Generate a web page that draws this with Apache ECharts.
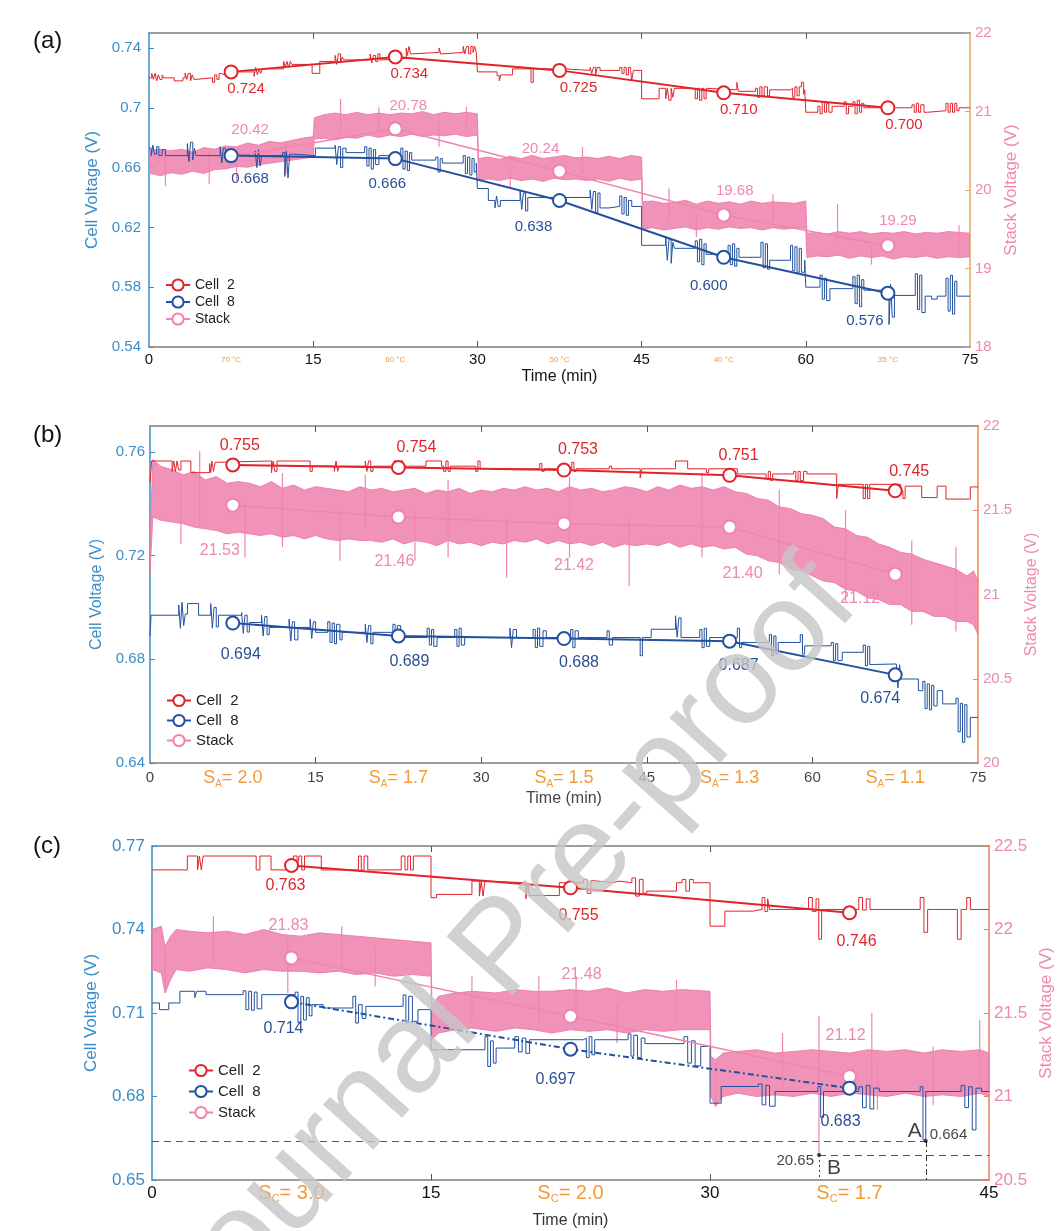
<!DOCTYPE html>
<html>
<head>
<meta charset="utf-8">
<title>Cell and stack voltage</title>
<script src="https://cdn.jsdelivr.net/npm/echarts@6/dist/echarts.min.js"></script>
<style>
  html, body { margin: 0; padding: 0; background: #fff; }
  #chart { width: 1063px; height: 1231px; }
</style>
</head>
<body>
<div id="chart"></div>
<script>
// ---- axis ticks ----
const timeTicksAB = [0, 15, 30, 45, 60, 75]
const timeTicksC = [0, 15, 30, 45]
const cellTicksA = [0.54, 0.58, 0.62, 0.66, 0.7, 0.74]
const stackTicksA = [18, 19, 20, 21, 22]
const cellTicksB = [0.64, 0.68, 0.72, 0.76]
const stackTicksB = [20, 20.5, 21, 21.5, 22]
const cellTicksC = [0.65, 0.68, 0.71, 0.74, 0.77]
const stackTicksC = [20.5, 21, 21.5, 22, 22.5]

// ---- operating conditions (one per 15 min block) ----
const markTimesAB = [7.5, 22.5, 37.5, 52.5, 67.5]
const markTimesC = [7.5, 22.5, 37.5]
const tempLabelsA = ['70 °C', '60 °C', '50 °C', '40 °C', '35 °C']
const anodeStoichB = ['2.0', '1.7', '1.5', '1.3', '1.1']
const cathodeStoichC = ['3.0', '2.0', '1.7']

// ---- averaged values (circles) ----
const cell2MarksA = [0.724, 0.734, 0.725, 0.710, 0.700]
const cell8MarksA = [0.668, 0.666, 0.638, 0.600, 0.576]
const stackMarksA = [20.42, 20.78, 20.24, 19.68, 19.29]
const cell2MarksB = [0.755, 0.754, 0.753, 0.751, 0.745]
const cell8MarksB = [0.694, 0.689, 0.688, 0.687, 0.674]
const stackMarksB = [21.53, 21.46, 21.42, 21.40, 21.12]
const cell2MarksC = [0.763, 0.755, 0.746]
const cell8MarksC = [0.714, 0.697, 0.683]
const stackMarksC = [21.83, 21.48, 21.12]

// ---- measured traces [time min, voltage] (value holds until next point) ----
const cell2TraceA = [
  [0, 0.720], [0.25, 0.723], [0.4, 0.719], [0.55, 0.723], [0.7, 0.718], [0.85, 0.722], [1, 0.719], [1.2, 0.722], [1.35, 0.720],
  [2.3, 0.718], [3.1, 0.720], [3.3, 0.723], [3.45, 0.719], [3.6, 0.723], [3.8, 0.718], [3.95, 0.722], [4.1, 0.719], [4.3, 0.720],
  [5.8, 0.717], [6, 0.722], [6.2, 0.719], [6.4, 0.723], [6.6, 0.722], [6.9, 0.724],
  [9.6, 0.721], [9.75, 0.727], [9.9, 0.722], [10.05, 0.726], [10.2, 0.723], [10.35, 0.726],
  [12.3, 0.731], [12.45, 0.727], [12.6, 0.731], [12.75, 0.727], [12.9, 0.731], [13.05, 0.729],
  [14.9, 0.723], [15.6, 0.731],
  [17, 0.735], [17.15, 0.729], [17.3, 0.736], [17.5, 0.730], [17.65, 0.734], [17.8, 0.732],
  [20.2, 0.736], [20.35, 0.730], [20.5, 0.735], [20.7, 0.731], [20.9, 0.736], [21.1, 0.732], [21.3, 0.733],
  [23.5, 0.740], [23.6, 0.735], [23.75, 0.741], [23.9, 0.736], [24, 0.737],
  [26.5, 0.740], [26.65, 0.736], [26.8, 0.737],
  [28.7, 0.741], [28.85, 0.736], [29, 0.741], [29.2, 0.736], [29.4, 0.741], [29.6, 0.737], [29.75, 0.741], [29.9, 0.737],
  [30, 0.724], [31.8, 0.7215], [32, 0.718], [32.15, 0.722], [33.2, 0.726], [34.9, 0.717], [35.1, 0.726],
  [38, 0.725], [40.3, 0.727], [40.45, 0.723], [40.6, 0.727], [40.8, 0.722], [40.95, 0.727], [41.2, 0.725],
  [43, 0.727], [43.2, 0.723], [43.4, 0.727], [43.6, 0.722], [43.8, 0.727], [44, 0.725], [44.1, 0.718], [44.25, 0.725],
  [45, 0.706], [46.6, 0.713], [47.2, 0.706], [47.35, 0.713], [47.5, 0.705], [47.7, 0.713], [47.85, 0.707], [48, 0.713],
  [49.9, 0.706], [50.1, 0.713], [50.3, 0.705], [50.5, 0.713], [50.7, 0.706], [50.9, 0.713], [51, 0.712],
  [53.7, 0.717], [53.85, 0.711], [55.4, 0.713], [55.6, 0.707], [55.8, 0.714], [56, 0.708], [56.2, 0.714], [56.5, 0.708], [56.7, 0.712],
  [58.6, 0.713], [58.8, 0.707], [59, 0.714], [59.2, 0.708], [59.4, 0.714], [59.6, 0.717], [59.8, 0.709], [59.9, 0.712],
  [60, 0.697], [61.1, 0.701], [61.3, 0.696], [61.5, 0.704], [61.7, 0.697], [61.9, 0.703], [62.1, 0.697], [62.4, 0.701],
  [63.5, 0.704], [63.7, 0.696], [63.9, 0.701], [64.3, 0.704], [64.5, 0.696], [64.7, 0.705], [64.9, 0.697], [65.1, 0.703], [65.3, 0.700],
  [69.7, 0.702], [69.9, 0.697], [70.1, 0.703], [70.3, 0.697], [70.5, 0.702], [70.8, 0.697], [71.1, 0.698],
  [72.8, 0.703], [73, 0.697], [73.2, 0.703], [73.4, 0.697], [73.6, 0.703], [73.8, 0.698], [74, 0.700], [75, 0.700]
]
const cell8TraceA = [
  [0, 0.673], [0.2, 0.668], [0.35, 0.675], [0.5, 0.669], [0.7, 0.674], [0.9, 0.668], [1.2, 0.672], [1.5, 0.668],
  [3.5, 0.676], [3.65, 0.664], [3.8, 0.677], [4, 0.665], [4.15, 0.673], [4.3, 0.668],
  [6.5, 0.674], [6.65, 0.663], [6.8, 0.673], [7, 0.664], [7.2, 0.668],
  [9.7, 0.671], [9.85, 0.660], [10, 0.672], [10.15, 0.661], [10.3, 0.668],
  [12.2, 0.670], [12.4, 0.654], [12.55, 0.671], [12.7, 0.653], [12.85, 0.669], [13.1, 0.668],
  [15.2, 0.673], [17, 0.675], [17.15, 0.662], [17.3, 0.674], [17.5, 0.660], [17.7, 0.673], [18, 0.670],
  [19.7, 0.674], [19.9, 0.661], [20.1, 0.673], [20.3, 0.659], [20.5, 0.672], [20.7, 0.662], [21, 0.668],
  [23, 0.673], [23.2, 0.659], [23.4, 0.671], [23.6, 0.658], [23.8, 0.670], [24, 0.665],
  [26.2, 0.667], [26.4, 0.657], [26.6, 0.666], [26.8, 0.663],
  [28.7, 0.668], [28.9, 0.656], [29.1, 0.667], [29.3, 0.655], [29.5, 0.666], [29.7, 0.657], [29.9, 0.663],
  [30, 0.646], [31, 0.638], [31.6, 0.633], [31.75, 0.641], [31.9, 0.634], [32.1, 0.638],
  [33.9, 0.645], [34.05, 0.632], [34.2, 0.643], [34.4, 0.631], [34.6, 0.640],
  [40.3, 0.645], [40.45, 0.632], [40.6, 0.644], [40.8, 0.630], [41, 0.643], [41.2, 0.633], [42, 0.634],
  [43, 0.641], [43.2, 0.629], [43.4, 0.640], [43.6, 0.628], [43.8, 0.638], [44.1, 0.634],
  [45, 0.608], [47.2, 0.614], [47.35, 0.598], [47.5, 0.612], [47.7, 0.596], [47.85, 0.610], [48, 0.606],
  [49.9, 0.611], [50.1, 0.597], [50.3, 0.612], [50.5, 0.595], [50.7, 0.609], [50.9, 0.602],
  [52.9, 0.608], [53.1, 0.595], [53.3, 0.609], [53.5, 0.594], [53.7, 0.606], [53.9, 0.600],
  [55.9, 0.610], [56.1, 0.593], [56.3, 0.609], [56.5, 0.592], [56.7, 0.598],
  [58.6, 0.608], [58.8, 0.591], [59, 0.607], [59.2, 0.590], [59.4, 0.606], [59.6, 0.590], [59.9, 0.598],
  [60, 0.580], [61.3, 0.588], [61.5, 0.572], [61.7, 0.586], [61.9, 0.571], [62.2, 0.579],
  [64.3, 0.587], [64.5, 0.569], [64.7, 0.588], [64.9, 0.567], [65.1, 0.585], [65.3, 0.578],
  [67.6, 0.555], [67.75, 0.582], [67.9, 0.560], [68.1, 0.5745],
  [70, 0.589], [70.2, 0.565], [70.4, 0.588], [70.6, 0.563], [70.9, 0.574], [71.5, 0.572], [72, 0.574],
  [72.8, 0.586], [73, 0.564], [73.2, 0.588], [73.4, 0.562], [73.6, 0.584], [73.8, 0.574], [75, 0.574]
]
const cell2TraceB = [
  [0, 0.748], [0.15, 0.7565],
  [2, 0.7525], [2.15, 0.7565], [2.3, 0.7525], [2.45, 0.7565], [2.6, 0.753], [2.8, 0.7565],
  [3.7, 0.752], [5.4, 0.7555], [5.5, 0.752], [5.6, 0.7565], [5.75, 0.7525], [5.9, 0.756], [6.1, 0.7565],
  [11, 0.752], [11.15, 0.7565], [11.3, 0.7525], [11.5, 0.7565],
  [14.5, 0.7525], [14.7, 0.7545],
  [16.7, 0.7525], [16.85, 0.7565], [17, 0.7525], [17.15, 0.7545],
  [19.5, 0.7565], [19.65, 0.7525], [19.8, 0.7565], [20, 0.7525], [20.2, 0.7545],
  [22.1, 0.7565], [22.3, 0.7525], [22.7, 0.7565], [22.9, 0.7545],
  [25, 0.7565], [26.4, 0.7545], [26.6, 0.7525], [26.8, 0.7565], [27, 0.7525], [27.2, 0.7545],
  [29.5, 0.7525], [29.7, 0.7565], [29.9, 0.7535],
  [35.3, 0.7555], [35.5, 0.7525], [35.7, 0.7535],
  [38.2, 0.756], [38.4, 0.7525], [38.6, 0.7535],
  [41.6, 0.7545], [41.8, 0.7535], [44.4, 0.750], [44.55, 0.7535],
  [47.6, 0.7565], [48.7, 0.7535], [50.4, 0.752], [50.6, 0.7535],
  [53.2, 0.7515], [55.8, 0.7495], [56, 0.7525], [56.2, 0.749], [56.4, 0.7515],
  [58.3, 0.7525], [58.5, 0.749], [58.7, 0.7525], [58.9, 0.749], [59.2, 0.7525], [59.5, 0.7515],
  [62.2, 0.742], [62.35, 0.7475],
  [64.6, 0.742], [64.8, 0.7475], [65, 0.742], [65.2, 0.7475],
  [68, 0.745], [68.2, 0.742], [68.4, 0.7468],
  [69.9, 0.7424], [71.3, 0.7468], [72.1, 0.7418], [74.3, 0.7465], [75, 0.7465]
]
const cell8TraceB = [
  [0, 0.689], [0.1, 0.697],
  [2.6, 0.701], [2.75, 0.692], [2.9, 0.702], [3.05, 0.693], [3.2, 0.6975], [3.4, 0.7015], [4.4, 0.697],
  [5.5, 0.7015], [5.65, 0.692], [5.8, 0.700], [6, 0.6925], [6.2, 0.697],
  [8.3, 0.698], [8.45, 0.690], [8.6, 0.697], [8.8, 0.6905], [9, 0.6942],
  [10.1, 0.697], [10.25, 0.689], [10.4, 0.6965], [10.6, 0.6895], [10.8, 0.6923],
  [12.6, 0.6955], [12.75, 0.687], [12.9, 0.6945], [13.1, 0.6875], [13.4, 0.6923],
  [14.5, 0.6955], [14.65, 0.688], [14.8, 0.6945], [15, 0.6904],
  [16.1, 0.6945], [16.3, 0.6865], [16.5, 0.694], [16.7, 0.686], [16.9, 0.6935], [17.2, 0.6875], [17.4, 0.6904],
  [19.5, 0.6935], [19.65, 0.6865], [19.8, 0.693], [20, 0.686], [20.2, 0.6904],
  [22, 0.6935], [22.2, 0.6865], [22.4, 0.693], [22.7, 0.6884],
  [25.1, 0.692], [25.3, 0.6855], [25.5, 0.6915], [25.7, 0.685], [26, 0.6884],
  [27.6, 0.6915], [27.8, 0.685], [28, 0.692], [28.2, 0.6855], [28.5, 0.6884],
  [32.6, 0.692], [32.75, 0.6845], [32.9, 0.6915], [33.2, 0.6884],
  [34.7, 0.6915], [34.9, 0.6845], [35.1, 0.692], [35.3, 0.685], [35.6, 0.691], [35.9, 0.6884],
  [38.1, 0.6915], [38.3, 0.6845], [38.5, 0.691], [38.8, 0.6884],
  [41.4, 0.691], [41.6, 0.6855], [41.9, 0.6884], [44.4, 0.6814], [44.6, 0.6884],
  [45.4, 0.6916], [47.6, 0.6968], [47.75, 0.6885], [47.9, 0.696], [48.1, 0.6884],
  [49.8, 0.6915], [50, 0.6845], [50.2, 0.692], [50.4, 0.685], [50.7, 0.6884],
  [53.2, 0.692], [53.4, 0.6845], [53.6, 0.6865],
  [56.1, 0.6895], [56.3, 0.6815], [56.5, 0.689], [56.7, 0.682], [56.9, 0.6865],
  [58.9, 0.6895], [59.1, 0.682], [59.3, 0.6852],
  [61.7, 0.6865], [61.9, 0.6795], [62.1, 0.686], [62.3, 0.6795], [62.7, 0.6827],
  [64.6, 0.6855], [64.8, 0.6775], [65, 0.685], [65.2, 0.678], [65.5, 0.6782],
  [67.6, 0.6775], [67.75, 0.669], [67.9, 0.6779], [68, 0.6724],
  [69.6, 0.6679], [70, 0.6715], [70.2, 0.661], [70.4, 0.6705], [70.6, 0.6605], [70.8, 0.670], [71, 0.662], [71.3, 0.6679],
  [71.8, 0.6628], [73, 0.665], [73.2, 0.652], [73.4, 0.663], [73.6, 0.648], [73.8, 0.6625], [74, 0.650], [74.3, 0.6576], [75, 0.6576]
]
const cell2TraceC = [
  [0, 0.7614], [1.9, 0.7664], [2.45, 0.7614], [2.55, 0.7664], [2.65, 0.7614], [2.75, 0.7664],
  [5.6, 0.7614], [5.8, 0.7664], [6.4, 0.7614], [7.6, 0.7664], [7.8, 0.7614], [7.9, 0.7664], [8.05, 0.7614], [8.2, 0.7664],
  [9.1, 0.7614], [11.1, 0.7664], [11.25, 0.7614], [11.4, 0.7664], [11.6, 0.7614],
  [13.4, 0.7664], [13.6, 0.7614], [13.75, 0.7664], [13.9, 0.7614], [14.05, 0.7664],
  [15, 0.7514], [15.3, 0.7526], [17.2, 0.7574], [17.6, 0.752], [17.7, 0.7574], [17.8, 0.752], [17.9, 0.7574], [18, 0.7568],
  [20.1, 0.751], [20.2, 0.7568], [20.3, 0.7522], [21.9, 0.7568],
  [23.2, 0.758], [23.4, 0.753], [23.6, 0.7575], [23.8, 0.7568], [24.8, 0.7574], [25.1, 0.7568],
  [25.8, 0.7585], [26, 0.752], [26.2, 0.758], [26.4, 0.753], [26.6, 0.7538],
  [28.2, 0.7568], [28.5, 0.758], [28.7, 0.7538], [28.9, 0.758], [29.1, 0.7568],
  [30, 0.7412], [30.8, 0.7466], [32.3, 0.7472], [32.8, 0.7515], [32.95, 0.7465], [33.1, 0.751], [33.2, 0.7472],
  [35.3, 0.7515], [35.5, 0.7465], [35.7, 0.751], [35.85, 0.7365], [36, 0.7472],
  [38, 0.7515], [38.2, 0.747], [38.4, 0.751], [38.6, 0.7472],
  [41.3, 0.7515], [41.5, 0.739], [41.7, 0.7472],
  [43.3, 0.7365], [43.5, 0.7472], [43.8, 0.7515], [44, 0.7472], [45, 0.7472]
]
const cell8TraceC = [
  [0, 0.7136], [0.4, 0.7112], [0.9, 0.7136], [1.5, 0.7178], [2.3, 0.7155], [2.4, 0.7178], [2.9, 0.7166],
  [4.9, 0.718], [5.05, 0.7112], [5.2, 0.7178], [5.35, 0.711], [5.5, 0.7175], [5.65, 0.7115], [5.9, 0.7166],
  [7.7, 0.7175], [7.85, 0.7064], [8, 0.716], [8.15, 0.7075], [8.3, 0.7155], [8.45, 0.709], [8.6, 0.713],
  [9.2, 0.7118], [10.8, 0.716], [10.95, 0.7064], [11.1, 0.713], [11.3, 0.708], [11.5, 0.7124],
  [13.5, 0.7165], [13.65, 0.7064], [13.8, 0.716], [14, 0.707], [14.3, 0.7112],
  [15, 0.6968], [17.9, 0.7015], [18.05, 0.6908], [18.2, 0.700], [18.35, 0.692], [18.5, 0.6974],
  [19.5, 0.7015], [19.7, 0.696], [19.9, 0.701], [20.1, 0.6955], [20.3, 0.7004],
  [23.2, 0.701], [23.35, 0.694], [23.5, 0.7015], [23.65, 0.695], [23.8, 0.7004],
  [25.6, 0.7025], [25.75, 0.6945], [25.9, 0.702], [26.1, 0.694], [26.3, 0.701], [26.5, 0.699],
  [28.6, 0.7015], [28.8, 0.692], [29, 0.700], [29.2, 0.691], [29.5, 0.698],
  [30, 0.6776], [30.6, 0.6836], [32.6, 0.6845], [32.8, 0.677], [33, 0.684], [33.2, 0.6765], [33.5, 0.6818],
  [35.8, 0.6836], [35.95, 0.6725], [36.1, 0.6818],
  [38, 0.6835], [38.2, 0.676], [38.4, 0.684], [38.6, 0.6755], [38.8, 0.683], [39.1, 0.6818],
  [41.3, 0.6835], [41.45, 0.6644], [41.6, 0.6818],
  [43.5, 0.684], [43.7, 0.676], [43.9, 0.6835], [44.1, 0.668], [44.3, 0.683], [44.6, 0.6818], [45, 0.6818]
]

// ---- stack voltage noise envelope [time min, low V, high V] ----
const stackBandA = [
  [0, 20.22, 20.50], [1, 20.18, 20.52], [2, 20.22, 20.50], [3, 20.20, 20.52], [4, 20.24, 20.48],
  [5, 20.21, 20.54], [6, 20.26, 20.52], [7, 20.27, 20.56], [8, 20.30, 20.55], [9, 20.29, 20.60],
  [10, 20.32, 20.57], [11, 20.34, 20.62], [12, 20.36, 20.60], [13, 20.38, 20.63], [14, 20.40, 20.66], [15, 20.42, 20.68],
  [15.1, 20.65, 20.92], [16, 20.66, 20.96], [17, 20.64, 20.98], [18, 20.67, 20.96], [19, 20.66, 20.99],
  [20, 20.70, 20.96], [21, 20.67, 20.98], [22, 20.70, 20.96], [23, 20.68, 20.98], [24, 20.71, 20.97], [25, 20.68, 21.00],
  [26, 20.70, 20.96], [27, 20.69, 20.99], [28, 20.71, 20.97], [29, 20.68, 20.99], [30, 20.70, 20.97],
  [30.1, 20.12, 20.40], [31, 20.14, 20.42], [32, 20.12, 20.39], [33, 20.15, 20.43], [34, 20.12, 20.40], [35, 20.14, 20.44],
  [36, 20.11, 20.40], [37, 20.15, 20.42], [38, 20.13, 20.44], [39, 20.14, 20.41], [40, 20.12, 20.42],
  [41, 20.14, 20.40], [42, 20.11, 20.43], [43, 20.15, 20.40], [44, 20.12, 20.44], [45, 20.14, 20.42],
  [45.1, 19.50, 19.85], [46, 19.52, 19.86], [47, 19.49, 19.83], [48, 19.51, 19.84], [49, 19.53, 19.87],
  [50, 19.49, 19.82], [51, 19.52, 19.86], [52, 19.50, 19.83], [53, 19.53, 19.85], [54, 19.51, 19.82], [55, 19.52, 19.86],
  [56, 19.49, 19.83], [57, 19.52, 19.85], [58, 19.50, 19.84], [59, 19.52, 19.83], [60, 19.51, 19.86],
  [60.1, 19.14, 19.45], [61, 19.16, 19.46], [62, 19.15, 19.44], [63, 19.17, 19.47], [64, 19.13, 19.45],
  [65, 19.16, 19.47], [66, 19.14, 19.44], [67, 19.16, 19.46], [68, 19.12, 19.45], [69, 19.15, 19.47], [70, 19.14, 19.44],
  [71, 19.16, 19.46], [72, 19.13, 19.45], [73, 19.15, 19.47], [74, 19.14, 19.46], [75, 19.15, 19.45]
]
const stackBandB = [
  [0, 21.12, 21.30], [0.25, 21.46, 21.80], [1, 21.44, 21.76], [2, 21.43, 21.74], [3, 21.42, 21.71],
  [4, 21.40, 21.73], [5, 21.39, 21.68], [6, 21.38, 21.70], [7, 21.36, 21.66], [8, 21.37, 21.67],
  [9, 21.36, 21.66], [10, 21.35, 21.64], [11, 21.36, 21.67], [12, 21.34, 21.63], [13, 21.35, 21.65], [14, 21.33, 21.62],
  [15, 21.35, 21.64], [16, 21.33, 21.63], [17, 21.32, 21.62], [18, 21.33, 21.61], [19, 21.32, 21.64],
  [20, 21.32, 21.62], [21, 21.31, 21.63], [22, 21.33, 21.61], [23, 21.30, 21.62], [24, 21.32, 21.63], [25, 21.31, 21.60],
  [26, 21.29, 21.62], [27, 21.32, 21.61], [28, 21.30, 21.63], [29, 21.31, 21.60], [30, 21.29, 21.62], [31, 21.31, 21.61],
  [32, 21.30, 21.63], [33, 21.32, 21.62], [34, 21.31, 21.64], [35, 21.33, 21.62], [36, 21.30, 21.63], [37, 21.32, 21.61],
  [38, 21.30, 21.64], [39, 21.31, 21.62], [40, 21.29, 21.63], [41, 21.31, 21.61], [42, 21.28, 21.62], [43, 21.30, 21.64],
  [44, 21.29, 21.63], [45, 21.30, 21.61], [46, 21.29, 21.64], [47, 21.31, 21.62], [48, 21.28, 21.65],
  [49, 21.30, 21.63], [50, 21.28, 21.64], [51, 21.29, 21.62], [52, 21.27, 21.64], [53, 21.28, 21.61], [54, 21.24, 21.60],
  [55, 21.23, 21.57], [56, 21.20, 21.56], [57, 21.19, 21.52], [58, 21.15, 21.51], [59, 21.14, 21.48], [60, 21.11, 21.47],
  [61, 21.08, 21.45], [62, 21.07, 21.40], [63, 21.03, 21.39], [64, 21.02, 21.35], [65, 20.98, 21.34], [66, 20.97, 21.30],
  [67, 20.94, 21.28], [68, 20.94, 21.25], [69, 20.90, 21.24], [70, 20.90, 21.21], [71, 20.87, 21.19], [72, 20.87, 21.17],
  [73, 20.84, 21.15], [74, 20.84, 21.11], [74.6, 20.82, 21.14], [75, 20.76, 21.08]
]
const stackBandC = [
  [0, 21.76, 22.00], [0.5, 21.74, 22.02], [0.7, 21.62, 21.90], [1, 21.70, 21.96], [1.3, 21.76, 22.00], [2, 21.75, 21.99],
  [3, 21.77, 21.98], [4, 21.76, 21.99], [5, 21.74, 21.97], [6, 21.76, 22.00], [7, 21.75, 21.97],
  [8, 21.75, 21.96], [9, 21.74, 21.98], [10, 21.75, 21.97], [11, 21.73, 21.96],
  [12, 21.74, 21.95], [13, 21.72, 21.94], [14, 21.73, 21.93], [15, 21.72, 21.92],
  [15.05, 21.34, 21.54], [15.4, 21.38, 21.60], [16.3, 21.40, 21.62], [17.2, 21.41, 21.63], [18.5, 21.39, 21.62],
  [19.5, 21.41, 21.64], [20.5, 21.40, 21.63], [21.5, 21.38, 21.63], [22.5, 21.40, 21.64], [23.5, 21.39, 21.63],
  [24.5, 21.40, 21.65], [25.5, 21.38, 21.62], [26.5, 21.40, 21.64], [27.5, 21.39, 21.63], [28.5, 21.40, 21.64], [30, 21.40, 21.63],
  [30.05, 21.00, 21.24], [30.3, 20.94, 21.22], [30.7, 21.00, 21.26], [31.5, 21.02, 21.27], [32.5, 21.00, 21.28],
  [33.5, 21.01, 21.26], [34.5, 21.00, 21.27], [35.5, 21.02, 21.28], [36.5, 21.00, 21.27], [37.5, 21.02, 21.26],
  [38.5, 21.01, 21.28], [39.5, 21.00, 21.27], [40.5, 21.02, 21.28], [41.5, 21.00, 21.26], [42.5, 21.01, 21.28],
  [43.5, 21.00, 21.27], [44.5, 21.02, 21.28], [45, 21.00, 21.26]
]

// ---- isolated stack voltage spikes [time min, low V, high V] ----
const stackSpikesA = [
  [1.5, 20.05, 20.48], [5.5, 20.08, 20.50], [8, 20.12, 20.45], [12.5, 20.20, 20.62], [17.5, 20.72, 21.16],
  [21, 20.72, 21.05], [26.5, 20.55, 20.90], [29, 20.75, 21.06], [33, 20.02, 20.30], [39.6, 20.20, 20.55],
  [47.5, 19.60, 20.02], [50, 19.40, 19.70], [57, 19.60, 19.95], [62.9, 19.30, 19.82], [66, 19.05, 19.30], [74, 19.20, 19.55]
]
const stackSpikesB = [
  [2.8, 21.30, 21.70], [4.5, 21.40, 21.85], [8.6, 21.22, 21.55], [12, 21.28, 21.72], [17.2, 21.20, 21.50],
  [19.5, 21.40, 21.71], [24, 21.20, 21.50], [27, 21.22, 21.68], [32.3, 21.10, 21.45], [38, 21.22, 21.70],
  [43.4, 21.05, 21.45], [50, 21.22, 21.72], [57, 21.12, 21.62], [63, 20.96, 21.50], [69, 20.82, 21.32], [73, 20.78, 21.28]
]
const stackSpikesC = [
  [0.7, 21.62, 21.90], [3.3, 21.80, 22.08], [7.3, 21.62, 21.95], [10.2, 21.76, 22.02], [12, 21.66, 21.90],
  [17.2, 21.45, 21.72], [20.8, 21.45, 21.72], [22.8, 21.45, 21.72], [25, 21.32, 21.55], [28.2, 21.45, 21.70],
  [30.3, 20.94, 21.20], [33.9, 21.05, 21.38], [35.86, 20.65, 21.48], [38.7, 21.05, 21.50], [39, 20.92, 21.20],
  [42, 20.95, 21.30], [44.5, 21.05, 21.46]
]

// ---- reference points in (c) ----
const pointA = [41.6, 0.664]   // cell 8 minimum (left axis)
const pointB = [35.86, 20.65]  // stack minimum (right axis)

// ---- colours ----
const RED = '#e1242b'
const BLUE = '#22519f'
const PINK = '#ef84ae'
const PINK_TXT = '#ee88b2'
const AXBLUE = '#3a8dc8'
const ORANGE = '#f39a38'
const FRAME = '#7d7d7d'
const FONT = '"Liberation Sans", Arial, sans-serif'

// label placement of the averaged values, [dx, dy] in px
const offA = {
  c2: [[15, -3], [14, -3], [19, -3], [15, -3], [16, -3]],
  c8: [[19, 3], [-8, 5], [-26, 6], [-15, 9], [-23, 8]],
  st: [[19, -7], [13, -3], [-19, -2], [11, -4], [10, -5]]
}
const offB = {
  c2: [[7, 1], [18, 1], [14, 0], [9, 1], [14, 1]],
  c8: [[8, 11], [11, 5], [15, 4], [9, 4], [-15, 3]],
  st: [[-13, 25], [-4, 24], [10, 21], [13, 26], [-35, 4]]
}
const offC = {
  c2: [[-6, 0], [8, 7], [7, 8]],
  c8: [[-8, 6], [-15, 10], [-9, 13]],
  st: [[-3, -12], [11, -21], [-4, -20]]
}

const grids = []
const xAxes = []
const yAxes = []
const series = []

function bandSeries (rows, xi, yi) {
  return {
    type: 'custom', xAxisIndex: xi, yAxisIndex: yi, silent: true, clip: true, z: 1,
    data: rows, encode: { x: 0, y: [1, 2] },
    renderItem: function (params, api) {
      if (params.dataIndex !== 0) return null
      let pts = rows.map(function (r) { return api.coord([r[0], r[2]]) })
      for (let i = rows.length - 1; i >= 0; i--) pts.push(api.coord([rows[i][0], rows[i][1]]))
      return { type: 'polygon', shape: { points: pts }, style: { fill: PINK, stroke: '#ea79a5', lineWidth: 1, opacity: 0.88 } }
    }
  }
}

function spikeSeries (rows, xi, yi) {
  return {
    type: 'custom', xAxisIndex: xi, yAxisIndex: yi, silent: true, clip: true, z: 1,
    data: rows, encode: { x: 0, y: [1, 2] },
    renderItem: function (params, api) {
      const lo = api.coord([api.value(0), api.value(1)])
      const hi = api.coord([api.value(0), api.value(2)])
      return { type: 'line', shape: { x1: lo[0], y1: lo[1], x2: hi[0], y2: hi[1] }, style: { stroke: PINK, lineWidth: 1.2 } }
    }
  }
}

function traceSeries (data, xi, yi, color) {
  return {
    type: 'line', xAxisIndex: xi, yAxisIndex: yi, data: data, step: 'end',
    symbol: 'none', silent: true, z: 2, lineStyle: { color: color, width: 1 }
  }
}

function markSeries (name, times, vals, offs, xi, yi, color, txtColor, pos, digits, fontSize, lineType) {
  return {
    name: name, type: 'line', xAxisIndex: xi, yAxisIndex: yi, z: 4,
    data: times.map(function (t, i) { return { value: [t, vals[i]], label: { offset: offs[i] } } }),
    symbol: 'circle', symbolSize: 13,
    itemStyle: { color: '#fff', borderColor: color, borderWidth: 2 },
    lineStyle: { color: color, width: name === 'Stack' ? 1.5 : 2, type: lineType || 'solid' },
    label: {
      show: true, position: pos, fontSize: fontSize, color: txtColor,
      formatter: function (p) { return p.value[1].toFixed(digits) }
    },
    emphasis: { disabled: true }
  }
}

function buildPanel (p, cfg) {
  const xb = 2 * p
  const yl = 2 * p
  const yr = 2 * p + 1
  grids.push(cfg.grid)
  const labelVals = cfg.timeTicks.concat(cfg.markTimes).sort(function (a, b) { return a - b })
  const inner = cfg.timeTicks.slice(1, -1)
  xAxes.push({
    type: 'value', gridIndex: p, position: 'bottom', min: 0, max: cfg.tMax,
    axisLine: { onZero: false, lineStyle: { color: FRAME, width: 1.5 } },
    axisTick: { inside: true, length: 6, customValues: inner, lineStyle: { color: '#555' } },
    axisLabel: {
      customValues: labelVals, margin: cfg.xMargin, verticalAlign: 'middle',
      formatter: function (v) {
        const k = cfg.markTimes.indexOf(v)
        return k >= 0 ? cfg.condText(k) : '{n|' + v + '}'
      },
      rich: cfg.rich
    },
    splitLine: { show: false },
    name: 'Time (min)', nameLocation: 'middle', nameGap: cfg.xNameGap,
    nameTextStyle: { fontSize: 16, color: cfg.xColor }
  })
  xAxes.push({
    type: 'value', gridIndex: p, position: 'top', min: 0, max: cfg.tMax,
    axisLine: { onZero: false, lineStyle: { color: FRAME, width: 1.5 } },
    axisTick: { inside: true, length: 6, customValues: inner, lineStyle: { color: '#555' } },
    axisLabel: { show: false },
    splitLine: { show: false }
  })
  yAxes.push({
    type: 'value', gridIndex: p, position: 'left', min: cfg.cellTicks.min, max: cfg.cellTicks.max,
    axisLine: { show: true, onZero: false, lineStyle: { color: AXBLUE, width: 1.5 } },
    axisTick: { show: true, inside: true, length: 5, customValues: cfg.cellTicks.vals, lineStyle: { color: AXBLUE } },
    axisLabel: { customValues: cfg.cellTicks.vals, color: AXBLUE, fontSize: cfg.yFont, margin: cfg.yMargin },
    splitLine: { show: false },
    name: 'Cell Voltage (V)', nameLocation: 'middle', nameGap: cfg.leftGap,
    nameTextStyle: { color: AXBLUE, fontSize: cfg.nameFont }
  })
  yAxes.push({
    type: 'value', gridIndex: p, position: 'right', min: cfg.stackTicks.min, max: cfg.stackTicks.max,
    axisLine: { show: true, onZero: false, lineStyle: { color: cfg.rightColor, width: 1.5 } },
    axisTick: { show: true, inside: true, length: 5, customValues: cfg.stackTicks.vals, lineStyle: { color: cfg.rightColor } },
    axisLabel: { customValues: cfg.stackTicks.vals, color: PINK_TXT, fontSize: cfg.yFont, margin: 5 },
    splitLine: { show: false },
    name: 'Stack Voltage (V)', nameLocation: 'middle', nameGap: cfg.rightGap,
    nameTextStyle: { color: PINK_TXT, fontSize: cfg.nameFont }
  })
  series.push(bandSeries(cfg.band, xb, yr))
  series.push(spikeSeries(cfg.spikes, xb, yr))
  series.push(traceSeries(cfg.c8Trace, xb, yl, BLUE))
  series.push(traceSeries(cfg.c2Trace, xb, yl, RED))
  series.push(markSeries('Stack', cfg.markTimes, cfg.stMarks, cfg.off.st, xb, yr, PINK, PINK_TXT, cfg.stPos, 2, cfg.lblFont))
  series.push(markSeries('Cell  8', cfg.markTimes, cfg.c8Marks, cfg.off.c8, xb, yl, BLUE, '#2b4f96', 'bottom', 3, cfg.lblFont, cfg.c8Line))
  series.push(markSeries('Cell  2', cfg.markTimes, cfg.c2Marks, cfg.off.c2, xb, yl, RED, RED, cfg.c2Pos, 3, cfg.lblFont))
}

const subRich = function (numColor, numSize, sSize, subSize) {
  return {
    n: { fontSize: numSize, color: numColor },
    s: { fontSize: sSize, color: ORANGE },
    sub: { fontSize: subSize, color: ORANGE, padding: [12, 0, 0, 0] }
  }
}

buildPanel(0, {
  grid: { left: 149, top: 33, width: 821, height: 314 },
  tMax: 75, timeTicks: timeTicksAB, markTimes: markTimesAB,
  cellTicks: { min: 0.54, max: 0.75, vals: cellTicksA },
  stackTicks: { min: 18, max: 22, vals: stackTicksA },
  condText: function (k) { return '{o|' + tempLabelsA[k] + '}' },
  rich: { n: { fontSize: 15, color: '#111' }, o: { fontSize: 8, color: ORANGE } },
  xMargin: 13, xNameGap: 20, xColor: '#111', yFont: 15, yMargin: 8, nameFont: 17,
  leftGap: 38, rightGap: 29, rightColor: '#e0a66a',
  band: stackBandA, spikes: stackSpikesA, c2Trace: cell2TraceA, c8Trace: cell8TraceA,
  c2Marks: cell2MarksA, c8Marks: cell8MarksA, stMarks: stackMarksA,
  off: offA, c2Pos: 'bottom', stPos: 'top', lblFont: 15
})
buildPanel(1, {
  grid: { left: 150, top: 426, width: 828, height: 337 },
  tMax: 75, timeTicks: timeTicksAB, markTimes: markTimesAB,
  cellTicks: { min: 0.64, max: 0.77, vals: cellTicksB },
  stackTicks: { min: 20, max: 22, vals: stackTicksB },
  condText: function (k) { return '{s|S}{sub|A}{s|= ' + anodeStoichB[k] + '}' },
  rich: subRich('#444', 15, 18, 10),
  xMargin: 15, xNameGap: 28, xColor: '#444', yFont: 15, yMargin: 5, nameFont: 16,
  leftGap: 42, rightGap: 42, rightColor: '#f0845a',
  band: stackBandB, spikes: stackSpikesB, c2Trace: cell2TraceB, c8Trace: cell8TraceB,
  c2Marks: cell2MarksB, c8Marks: cell8MarksB, stMarks: stackMarksB,
  off: offB, c2Pos: 'top', stPos: 'bottom', lblFont: 16
})
buildPanel(2, {
  grid: { left: 152, top: 846, width: 846, height: 334 },
  tMax: 45, timeTicks: timeTicksC, markTimes: markTimesC,
  cellTicks: { min: 0.65, max: 0.77, vals: cellTicksC },
  stackTicks: { min: 20.5, max: 22.5, vals: stackTicksC },
  condText: function (k) { return '{s|S}{sub|C}{s|= ' + cathodeStoichC[k] + '}' },
  rich: subRich('#111', 17, 20, 11),
  xMargin: 13, xNameGap: 33, xColor: '#333', yFont: 17, yMargin: 7, nameFont: 17,
  leftGap: 52, rightGap: 46, rightColor: '#ea7e60',
  band: stackBandC, spikes: stackSpikesC, c2Trace: cell2TraceC, c8Trace: cell8TraceC,
  c2Marks: cell2MarksC, c8Marks: cell8MarksC, stMarks: stackMarksC,
  off: offC, c2Pos: 'bottom', stPos: 'top', lblFont: 16, c8Line: [6, 3, 2, 3]
})

// reference lines and points A / B in (c)
const dashStyle = { color: '#555', width: 1, type: [7, 5] }
series.push({
  type: 'scatter', xAxisIndex: 4, yAxisIndex: 4, z: 5, silent: true,
  data: [pointA], symbolSize: 4, itemStyle: { color: '#111' },
  label: { show: true, position: 'right', distance: 2, offset: [0, -6], fontSize: 15, color: '#111', formatter: function (p) { return p.value[1].toFixed(3) } },
  markLine: {
    silent: true, symbol: ['none', 'none'], label: { show: false }, lineStyle: dashStyle,
    data: [
      [{ coord: [0, pointA[1]] }, { coord: [pointA[0], pointA[1]] }],
      [{ coord: pointA, lineStyle: { type: [6, 3, 2, 3], color: '#333' } }, { coord: [pointA[0], 0.65] }]
    ]
  }
})
series.push({
  type: 'scatter', xAxisIndex: 4, yAxisIndex: 4, z: 5, silent: true,
  data: [pointA], symbolSize: 0,
  label: { show: true, position: 'left', distance: 4, offset: [0, -10], fontSize: 21, color: '#111', formatter: 'A' }
})
series.push({
  type: 'scatter', xAxisIndex: 4, yAxisIndex: 5, z: 5, silent: true,
  data: [pointB], symbolSize: 4, itemStyle: { color: '#111' },
  label: { show: true, position: 'left', distance: 3, offset: [0, 6], fontSize: 15, color: '#111', formatter: function (p) { return p.value[1].toFixed(2) } },
  markLine: {
    silent: true, symbol: ['none', 'none'], label: { show: false }, lineStyle: dashStyle,
    data: [
      [{ coord: [pointB[0], pointB[1]] }, { coord: [45, pointB[1]] }],
      [{ coord: pointB, lineStyle: { type: [2, 3], color: '#333' } }, { coord: [pointB[0], 20.5] }]
    ]
  }
})
series.push({
  type: 'scatter', xAxisIndex: 4, yAxisIndex: 5, z: 5, silent: true,
  data: [pointB], symbolSize: 0,
  label: { show: true, position: 'right', distance: 8, offset: [0, 13], fontSize: 21, color: '#111', formatter: 'B' }
})

const legendNames = ['Cell  2', 'Cell  8', 'Stack']
const legendBase = { orient: 'vertical', data: legendNames, selectedMode: false, itemWidth: 24, itemHeight: 14, padding: 0 }

const option = {
  animation: false,
  backgroundColor: '#fff',
  textStyle: { fontFamily: FONT },
  title: [
    { text: '(a)', left: 33, top: 29, padding: 0, textStyle: { fontSize: 24, fontWeight: 'normal', color: '#111' } },
    { text: '(b)', left: 33, top: 423, padding: 0, textStyle: { fontSize: 24, fontWeight: 'normal', color: '#111' } },
    { text: '(c)', left: 33, top: 834, padding: 0, textStyle: { fontSize: 24, fontWeight: 'normal', color: '#111' } }
  ],
  legend: [
    Object.assign({}, legendBase, { left: 165, top: 278, itemGap: 3, textStyle: { fontSize: 14, color: '#222' } }),
    Object.assign({}, legendBase, { left: 166, top: 693, itemGap: 5, textStyle: { fontSize: 15, color: '#222' } }),
    Object.assign({}, legendBase, { left: 188, top: 1063, itemGap: 6, textStyle: { fontSize: 15, color: '#222' } })
  ],
  grid: grids,
  xAxis: xAxes,
  yAxis: yAxes,
  series: series,
  graphic: [{
    type: 'text', x: 505, y: 950, rotation: 0.84, z: 100, silent: true,
    style: {
      text: 'Journal Pre-proof', font: '128px ' + FONT, fill: 'rgba(198,198,198,0.8)',
      align: 'center', verticalAlign: 'middle', textAlign: 'center', textVerticalAlign: 'middle'
    }
  }]
}

const chart = echarts.init(document.getElementById('chart'))
chart.setOption(option)
</script>
</body>
</html>
